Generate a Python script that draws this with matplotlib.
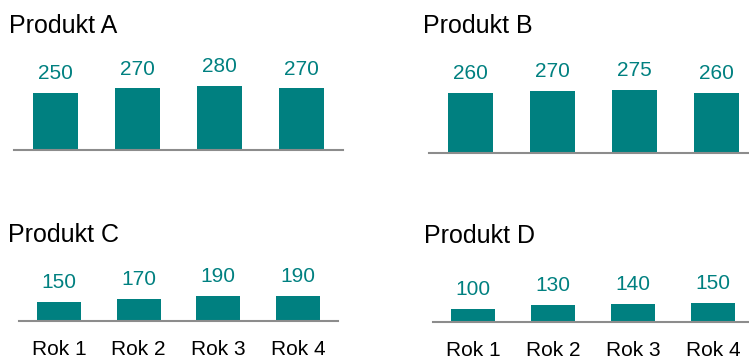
import matplotlib.pyplot as plt

# Sales per product over four years
years = ["Rok 1", "Rok 2", "Rok 3", "Rok 4"]
products = ["Produkt A", "Produkt B", "Produkt C", "Produkt D"]
sales_a = [250, 270, 280, 270]
sales_b = [260, 270, 275, 260]
sales_c = [150, 170, 190, 190]
sales_d = [100, 130, 140, 150]

TEAL = "#008080"
GREY = "#8c8c8c"

plt.rcParams['font.family'] = ['Liberation Sans', 'DejaVu Sans']

W, H = 749, 359
fig = plt.figure(figsize=(W / 100, H / 100), dpi=100)

# panel boxes in pixels: left, axis line y, width, height, px per unit, title x, title baseline y
panels = [
    (14, 150, 329, 90, 0.228, 9, 33),
    (429, 152.5, 329, 90, 0.228, 423, 33),
    (19, 321, 319, 60, 0.130, 8, 242),
    (433, 322, 320, 60, 0.130, 424, 243),
]
series = [sales_a, sales_b, sales_c, sales_d]

for i, (name, vals, box) in enumerate(zip(products, series, panels)):
    left, base, width, height, scale, tx, ty = box
    ax = fig.add_axes([left / W, (H - base) / H, width / W, height / H])
    x = range(len(years))
    ax.bar(x, vals, width=0.55, color=TEAL)
    ax.set_xlim(-0.5, 3.5)
    ax.set_ylim(0, height / scale)

    for xi, v in zip(x, vals):
        ax.annotate(str(v), (xi, v), xytext=(0, 10), textcoords="offset points",
                    ha="center", va="baseline", fontsize=15, color=TEAL)

    for side in ["top", "right", "left"]:
        ax.spines[side].set_visible(False)
    ax.spines["bottom"].set_color(GREY)
    ax.spines["bottom"].set_linewidth(1.5)
    ax.set_yticks([])

    ax.set_xticks(list(x))
    if i >= 2:
        ax.set_xticklabels(years, fontsize=15)
        ax.tick_params(axis="x", length=0, pad=14)
    else:
        ax.set_xticklabels([])
        ax.tick_params(axis="x", length=0)

    fig.text(tx / W, (H - ty) / H, name, fontsize=18, ha="left", va="baseline")

fig.savefig("out.png", dpi=100)
